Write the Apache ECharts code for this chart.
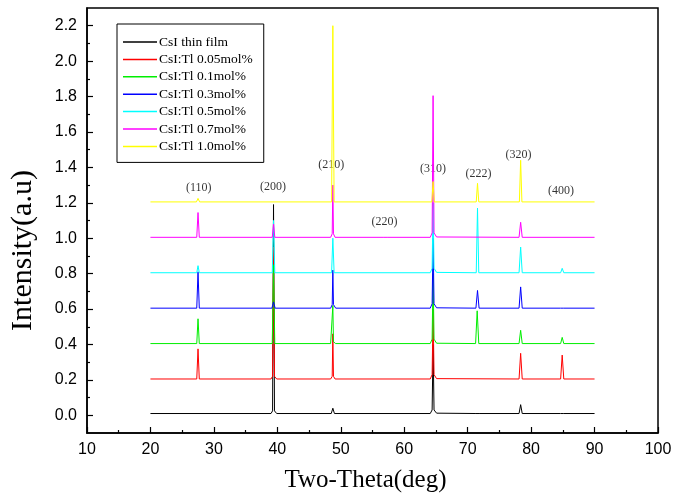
<!DOCTYPE html>
<html>
<head>
<meta charset="utf-8">
<script src="https://cdn.jsdelivr.net/npm/echarts@6/dist/echarts.min.js"></script>
<style>html,body{margin:0;padding:0;background:#fff;}#chart{width:676px;height:502px;}</style>
</head>
<body>
<div id="chart"></div>
<script>
// ---- data ----
const seriesNames = ['CsI thin film','CsI:Tl 0.05mol%','CsI:Tl 0.1mol%','CsI:Tl 0.3mol%','CsI:Tl 0.5mol%','CsI:Tl 0.7mol%','CsI:Tl 1.0mol%'];

const thinFilm = [[20,0.01],[39.0,0.01],[39.25,0.025],[39.4,1.19],[39.55,0.025],[39.9,0.01],
  [48.5,0.01],[48.75,0.04],[49.0,0.01],
  [64.1,0.01],[64.4,0.03],[64.55,0.4],[64.7,0.03],[65.1,0.012],
  [71.3,0.01],[71.55,0.02],[71.8,0.01],
  [78.1,0.01],[78.35,0.06],[78.6,0.01],
  [84.65,0.01],[84.9,0.018],[85.15,0.01],[90,0.01]];

const tl005 = [[20,0.205],[27.3,0.205],[27.5,0.375],[27.7,0.205],
  [39.0,0.205],[39.25,0.22],[39.4,0.95],[39.55,0.22],[39.9,0.205],
  [48.4,0.205],[48.65,0.22],[48.75,0.46],[48.85,0.22],[49.1,0.205],
  [64.1,0.205],[64.4,0.23],[64.55,0.6],[64.7,0.23],[65.1,0.207],
  [78.1,0.205],[78.35,0.35],[78.6,0.205],
  [84.65,0.205],[84.9,0.34],[85.15,0.205],[90,0.205]];

const tl01 = [[20,0.405],[27.3,0.405],[27.5,0.545],[27.7,0.405],
  [39.2,0.405],[39.4,0.85],[39.6,0.405],
  [48.4,0.405],[48.65,0.415],[48.75,0.62],[48.85,0.415],[49.2,0.405],
  [64.1,0.405],[64.4,0.43],[64.55,0.8],[64.7,0.43],[65.1,0.407],
  [71.25,0.405],[71.5,0.59],[71.75,0.405],
  [78.1,0.405],[78.35,0.48],[78.6,0.405],
  [84.65,0.405],[84.9,0.44],[85.15,0.405],[90,0.405]];

const tl03 = [[20,0.605],[27.3,0.605],[27.5,0.81],[27.7,0.605],
  [39.15,0.605],[39.4,0.64],[39.65,0.605],
  [48.4,0.605],[48.65,0.625],[48.75,0.82],[48.85,0.625],[49.2,0.605],
  [64.1,0.605],[64.4,0.63],[64.55,1.0],[64.7,0.63],[65.1,0.607],
  [71.3,0.605],[71.55,0.705],[71.8,0.605],
  [78.1,0.605],[78.35,0.725],[78.6,0.605],
  [84.65,0.605],[84.9,0.612],[85.15,0.605],[90,0.605]];

const tl05 = [[20,0.805],[27.3,0.805],[27.5,0.845],[27.7,0.805],
  [39.2,0.805],[39.4,1.1],[39.6,0.805],
  [48.55,0.805],[48.75,1.0],[48.95,0.805],
  [64.1,0.805],[64.4,0.83],[64.55,1.2],[64.7,0.83],[65.1,0.807],
  [71.35,0.805],[71.55,1.17],[71.75,0.805],
  [78.1,0.805],[78.35,0.95],[78.6,0.805],
  [84.65,0.805],[84.9,0.83],[85.15,0.805],[90,0.805]];

const tl07 = [[20,1.005],[27.3,1.005],[27.5,1.145],[27.7,1.005],
  [39.2,1.005],[39.4,1.08],[39.6,1.005],
  [48.4,1.005],[48.65,1.025],[48.75,1.3],[48.85,1.025],[49.1,1.005],
  [56.8,1.005],[57.05,1.015],[57.3,1.005],
  [64.1,1.005],[64.4,1.03],[64.55,1.805],[64.7,1.03],[65.1,1.007],
  [78.1,1.005],[78.35,1.09],[78.6,1.005],[90,1.005]];

const tl10 = [[20,1.205],[27.25,1.205],[27.5,1.225],[27.75,1.205],
  [48.55,1.205],[48.75,2.2],[48.95,1.205],
  [64.35,1.205],[64.55,1.32],[64.75,1.205],
  [71.35,1.205],[71.55,1.31],[71.75,1.205],
  [78.15,1.205],[78.35,1.44],[78.55,1.205],[90,1.205]];

const peakLabels = ['(110)','(200)','(210)','(220)','(310)','(222)','(320)','(400)'];
const peakLabelX = [27.6, 39.3, 48.5, 56.9, 64.55, 71.7, 78.0, 84.7];
const peakLabelY = [1.285, 1.29, 1.415, 1.095, 1.39, 1.365, 1.47, 1.27];

const yMajorTicks = [0.0,0.2,0.4,0.6,0.8,1.0,1.2,1.4,1.6,1.8,2.0,2.2];
const yMinorTicks = [0.1,0.3,0.5,0.7,0.9,1.1,1.3,1.5,1.7,1.9,2.1];

// ---- styles ----
const colors = ['#000000','#ff0000','#00ee00','#0000ff','#00ffff','#ff00ff','#ffff00'];
const serif = "'Liberation Serif','Times New Roman',serif";
const sans = "'Liberation Sans',Arial,sans-serif";
const allData = [thinFilm, tl005, tl01, tl03, tl05, tl07, tl10];

const chart = echarts.init(document.getElementById('chart'), null, {renderer:'canvas'});

const series = allData.map((d, i) => ({
  name: seriesNames[i], type: 'line', data: d, showSymbol: false, symbol: 'none',
  lineStyle: {color: colors[i], width: 1}, itemStyle: {color: colors[i]},
  xAxisIndex: 0, yAxisIndex: 0, animation: false, silent: true
}));

series.push({
  type: 'scatter', symbolSize: 0, silent: true, animation: false,
  data: peakLabels.map((t, i) => [peakLabelX[i], peakLabelY[i], t]),
  label: {show: true, position: 'inside', formatter: p => p.data[2],
    fontFamily: serif, fontSize: 12, color: '#000'}
});

chart.setOption({
  animation: false,
  backgroundColor: '#fff',
  grid: {left: 86, right: 18, top: 8, bottom: 69, show: true, borderColor: '#000', borderWidth: 1.5, backgroundColor: 'transparent'},
  legend: {
    data: seriesNames, orient: 'vertical', left: 117, top: 24,
    backgroundColor: '#fff', borderColor: '#000', borderWidth: 1,
    padding: [11, 11, 9, 6], itemGap: 3.4, itemWidth: 34, itemHeight: 1.5, icon: 'rect',
    textStyle: {fontFamily: serif, fontSize: 13.5, color: '#000', lineHeight: 14, padding: [0,0,0,-3]}
  },
  xAxis: {
    type: 'value', min: 10, max: 100, interval: 10,
    axisLine: {show: true, onZero: false, lineStyle: {color: '#000', width: 1.5}},
    axisTick: {show: true, inside: true, length: 6, lineStyle: {color: '#000', width: 1.2}},
    minorTick: {show: true, splitNumber: 2, length: 3, lineStyle: {color: '#000', width: 1.2}},
    splitLine: {show: false},
    axisLabel: {fontFamily: sans, fontSize: 16, color: '#000', margin: 9},
    name: 'Two-Theta(deg)', nameLocation: 'middle', nameGap: 35,
    nameTextStyle: {fontFamily: serif, fontSize: 25, color: '#000', padding: [0, 14, 0, 0]}
  },
  yAxis: [{
    type: 'value', min: -0.1, max: 2.3,
    axisLine: {show: true, onZero: false, lineStyle: {color: '#000', width: 1.5}},
    axisTick: {show: true, inside: true, length: 6, customValues: yMajorTicks, lineStyle: {color: '#000', width: 1.2}},
    axisLabel: {customValues: yMajorTicks, formatter: v => v.toFixed(1), fontFamily: sans, fontSize: 16, color: '#000', margin: 10},
    splitLine: {show: false},
    name: 'Intensity(a.u)', nameLocation: 'middle', nameGap: 49, nameRotate: 90,
    nameTextStyle: {fontFamily: serif, fontSize: 30, color: '#000', padding: [0, 60, 0, 0]}
  }, {
    type: 'value', min: -0.1, max: 2.3, position: 'left', offset: 0,
    axisLine: {show: false},
    axisTick: {show: true, inside: true, length: 3, customValues: yMinorTicks, lineStyle: {color: '#000', width: 1.2}},
    axisLabel: {show: false}, splitLine: {show: false}
  }],
  series: series
});
</script>
</body>
</html>
